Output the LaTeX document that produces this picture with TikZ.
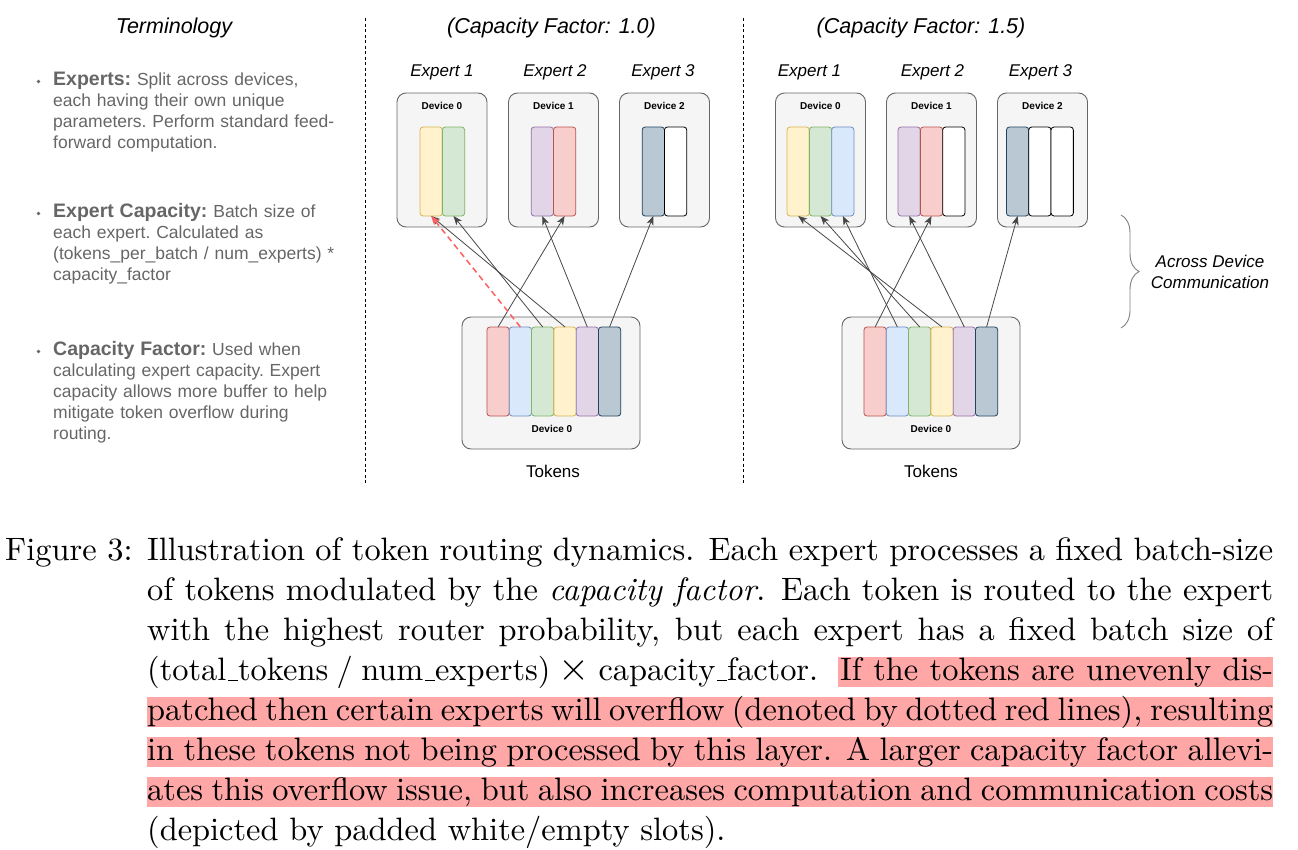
\documentclass[tikz,border=0pt]{standalone}
\usepackage{fontspec}
\usepackage{tikz}
\usetikzlibrary{positioning,arrows.meta,decorations.pathreplacing}
\newfontfamily\diagfont{Liberation Sans}
\newfontfamily\capfont{lmroman10-regular.otf}[ItalicFont=lmroman10-italic.otf]
\newcommand{\capunder}{\leavevmode\kern.06em\vbox{\hrule width.3em}}
\definecolor{devfill}{HTML}{F5F5F5}
\definecolor{devdraw}{HTML}{666666}
\definecolor{yelfill}{HTML}{FFF2CC}
\definecolor{yeldraw}{HTML}{D6B656}
\definecolor{grnfill}{HTML}{D5E8D4}
\definecolor{grndraw}{HTML}{82B366}
\definecolor{blufill}{HTML}{DAE8FC}
\definecolor{bludraw}{HTML}{6C8EBF}
\definecolor{redfill}{HTML}{F8CECC}
\definecolor{reddraw}{HTML}{B85450}
\definecolor{purfill}{HTML}{E1D5E7}
\definecolor{purdraw}{HTML}{9673A6}
\definecolor{slafill}{HTML}{BAC8D3}
\definecolor{sladraw}{HTML}{23445D}
\definecolor{termgray}{HTML}{666666}
\definecolor{overflowred}{HTML}{FF5F5F}
\definecolor{hlpink}{HTML}{FFA6A6}

\begin{document}
\begin{tikzpicture}[x=1pt, y=-1pt, every node/.style={font=\diagfont},
    device/.style={draw=devdraw, fill=devfill, rounded corners=9pt, line width=0.9pt, minimum width=90pt, minimum height=134pt},
    tokbox/.style={device, minimum width=178pt, minimum height=132pt},
    slot/.style={rounded corners=3pt, line width=0.8pt, inner sep=0pt, outer sep=0pt, minimum width=22.3pt, minimum height=89pt},
    yelslot/.style={slot, fill=yelfill, draw=yeldraw},
    grnslot/.style={slot, fill=grnfill, draw=grndraw},
    bluslot/.style={slot, fill=blufill, draw=bludraw},
    redslot/.style={slot, fill=redfill, draw=reddraw},
    purslot/.style={slot, fill=purfill, draw=purdraw},
    slaslot/.style={slot, fill=slafill, draw=sladraw},
    blankslot/.style={slot, fill=white, draw=black},
    devlabel/.style={font=\diagfont\bfseries\fontsize{10}{12}\selectfont},
    expertlabel/.style={font=\diagfont\itshape\fontsize{17}{20}\selectfont},
    header/.style={font=\diagfont\itshape\fontsize{21.5}{24}\selectfont},
    toklabel/.style={font=\diagfont\fontsize{17}{20}\selectfont},
    termtext/.style={text=termgray, text width=330pt, align=left, inner sep=0pt, anchor=base west, font=\diagfont\frenchspacing\fontsize{17.5}{21}\selectfont},
    bul/.style={circle, fill=termgray, inner sep=0pt, minimum size=3.6pt},
    route/.style={draw=black!72, line width=0.8pt, -{Stealth[length=9pt, width=7pt, inset=2.5pt]}},
    overflow/.style={draw=overflowred, line width=1.5pt, dash pattern=on 6pt off 4pt, -{Stealth[length=9pt, width=7pt, inset=2.5pt]}},
    sep/.style={dash pattern=on 3pt off 2.5pt, line width=0.9pt},
    commbrace/.style={decorate, decoration={brace, amplitude=18pt}, draw=black!50, line width=0.9pt},
    capline/.style={font=\capfont\fontsize{32.4}{40}\selectfont, inner sep=0pt, anchor=base west}]
    \useasboundingbox (0,0) rectangle (1298,849);

    % terminology column
    \node[header] (term) at (174,28) {Terminology};
    \node[bul] (b1) at (38.5,81.5) {};
    \node[termtext] (t1) at (53,85) {{\bfseries\fontsize{19.5}{21}\selectfont Experts:} Split across devices,\\each having their own unique\\parameters. Perform standard feed-\\forward computation.};
    \node[bul] (b2) at (38.5,213.5) {};
    \node[termtext] (t2) at (53,217) {{\bfseries\fontsize{19.5}{21}\selectfont Expert Capacity:} Batch size of\\each expert. Calculated as\\(tokens\_per\_batch / num\_experts) *\\capacity\_factor};
    \node[bul] (b3) at (38.5,351.5) {};
    \node[termtext] (t3) at (53,355) {{\bfseries\fontsize{19.5}{21}\selectfont Capacity Factor:} Used when\\calculating expert capacity. Expert\\capacity allows more buffer to help\\mitigate token overflow during\\routing.};

    \draw[sep] (365,18) -- (365,483);
    \draw[sep] (743,18) -- (743,483);

    % capacity factor 1.0
    \node[header] (cf1) at (551.5,28) {(Capacity Factor: 1.0)};
    \node[expertlabel] (LE1) at (442,72) {Expert 1};
    \node[expertlabel] (LE2) at (555,72) {Expert 2};
    \node[expertlabel] (LE3) at (663,72) {Expert 3};
    \node[device] (LD0) at (442,160) {};
    \node[device] (LD1) at (553.5,160) {};
    \node[device] (LD2) at (664.5,160) {};
    \node[devlabel, below=6pt of LD0.north] (LD0l) {Device 0};
    \node[devlabel, below=6pt of LD1.north] (LD1l) {Device 1};
    \node[devlabel, below=6pt of LD2.north] (LD2l) {Device 2};
    \node[yelslot] (L1y) at (431.2,171.5) {};
    \node[grnslot, right=0pt of L1y] (L1g) {};
    \node[purslot] (L2p) at (542.3,171.5) {};
    \node[redslot, right=0pt of L2p] (L2r) {};
    \node[slaslot] (L3s) at (653.3,171.5) {};
    \node[blankslot, right=0pt of L3s] (L3w) {};

    \node[tokbox] (LT) at (551,383) {};
    \node[redslot] (Ltr) at (498.1,371.5) {};
    \node[bluslot, right=0pt of Ltr] (Ltb) {};
    \node[grnslot, right=0pt of Ltb] (Ltg) {};
    \node[yelslot, right=0pt of Ltg] (Lty) {};
    \node[purslot, right=0pt of Lty] (Ltp) {};
    \node[slaslot, right=0pt of Ltp] (Lts) {};
    \node[devlabel] (LTl) at (552,429) {Device 0};
    \node[toklabel] (LTk) at (553,471) {Tokens};

    \path (Ltr.north) edge[route] (L2r.south)
          (Ltg.north) edge[route] (L1g.south)
          (Lty.north) edge[route] (L1y.south)
          (Ltp.north) edge[route] (L2p.south)
          (Lts.north) edge[route] (L3s.south)
          (Ltb.north) edge[overflow] (L1y.south);

    % capacity factor 1.5
    \node[header] (cf2) at (921,28) {(Capacity Factor: 1.5)};
    \node[expertlabel] (RE1) at (809.5,72) {Expert 1};
    \node[expertlabel] (RE2) at (932.5,72) {Expert 2};
    \node[expertlabel] (RE3) at (1040.5,72) {Expert 3};
    \node[device] (RD0) at (820.5,160) {};
    \node[device] (RD1) at (931.5,160) {};
    \node[device] (RD2) at (1042.5,160) {};
    \node[devlabel, below=6pt of RD0.north] (RD0l) {Device 0};
    \node[devlabel, below=6pt of RD1.north] (RD1l) {Device 1};
    \node[devlabel, below=6pt of RD2.north] (RD2l) {Device 2};
    \node[yelslot] (R1y) at (798.2,171.5) {};
    \node[grnslot, right=0pt of R1y] (R1g) {};
    \node[bluslot, right=0pt of R1g] (R1b) {};
    \node[purslot] (R2p) at (909.2,171.5) {};
    \node[redslot, right=0pt of R2p] (R2r) {};
    \node[blankslot, right=0pt of R2r] (R2w) {};
    \node[slaslot] (R3s) at (1017.6,171.5) {};
    \node[blankslot, right=0pt of R3s] (R3w) {};
    \node[blankslot, right=0pt of R3w] (R3x) {};

    \node[tokbox] (RT) at (931,383) {};
    \node[redslot] (Rtr) at (875.1,371.5) {};
    \node[bluslot, right=0pt of Rtr] (Rtb) {};
    \node[grnslot, right=0pt of Rtb] (Rtg) {};
    \node[yelslot, right=0pt of Rtg] (Rty) {};
    \node[purslot, right=0pt of Rty] (Rtp) {};
    \node[slaslot, right=0pt of Rtp] (Rts) {};
    \node[devlabel] (RTl) at (931,429) {Device 0};
    \node[toklabel] (RTk) at (931,471) {Tokens};

    \path (Rtr.north) edge[route] (R2r.south)
          (Rtb.north) edge[route] (R1b.south)
          (Rtg.north) edge[route] (R1g.south)
          (Rty.north) edge[route] (R1y.south)
          (Rtp.north) edge[route] (R2p.south)
          (Rts.north) edge[route] (R3s.south);

    \draw[commbrace] (1121,215) -- (1121,328);
    \node[expertlabel, align=center, font=\diagfont\itshape\fontsize{17}{21}\selectfont] (comm) at (1210,272) {Across Device\\Communication};

    % caption
    \fill[hlpink] (838,657) rectangle (1273,687);
    \fill[hlpink] (147,697) rectangle (1273,727);
    \fill[hlpink] (147,737) rectangle (1273,767);
    \fill[hlpink] (147,777) rectangle (1273,807);
    \node[capline] (fig) at (5,560) {Figure 3:};
    \node[capline] (c1) at (147,560) {\makebox[1126pt][s]{Illustration of token routing dynamics. Each expert processes a fixed batch-size}};
    \node[capline] (c2) at (147,600) {\makebox[1126pt][s]{of tokens modulated by the \emph{capacity factor}. Each token is routed to the expert}};
    \node[capline] (c3) at (147,640) {\makebox[1126pt][s]{with the highest router probability, but each expert has a fixed batch size of}};
    \node[capline] (c4) at (147,680) {\makebox[671pt][s]{(total\capunder tokens / num\capunder experts) {\fontsize{40}{40}\selectfont ×} capacity\capunder factor.}};
    \node[capline] (c4h) at (840,680) {\makebox[433pt][s]{If the tokens are unevenly dis-}};
    \node[capline] (c5) at (147,720) {\makebox[1126pt][s]{patched then certain experts will overflow (denoted by dotted red lines), resulting}};
    \node[capline] (c6) at (147,760) {\makebox[1126pt][s]{in these tokens not being processed by this layer. A larger capacity factor allevi-}};
    \node[capline] (c7) at (147,800) {\makebox[1126pt][s]{ates this overflow issue, but also increases computation and communication costs}};
    \node[capline] (c8) at (147,840) {(depicted by padded white/empty slots).};
\end{tikzpicture}
\end{document}
